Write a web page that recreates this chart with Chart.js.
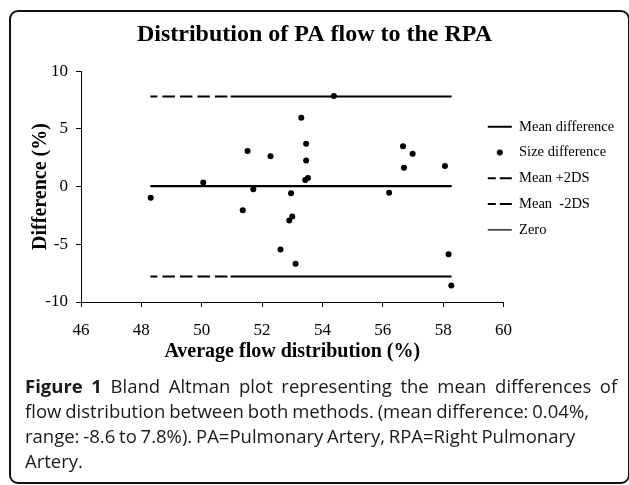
<!DOCTYPE html>
<html>
<head>
<meta charset="utf-8">
<script src="https://cdn.jsdelivr.net/npm/chart.js@4.4.1/dist/chart.umd.min.js"></script>
<style>
  html, body { margin: 0; padding: 0; background: #fff; width: 629px; height: 485px; overflow: hidden; }
  #frame { position: absolute; left: 9px; top: 10px; width: 617px; height: 470px; border: 2px solid #111; border-radius: 9px; }
  #chart { position: absolute; left: 0; top: 0; }
  #caption { position: absolute; left: 25px; top: 372.6px; width: 602px; font-family: 'Open Sans', sans-serif; font-size: 18.5px; line-height: 25.3px; color: #1a1a1a; white-space: nowrap; }
  #caption span { display: block; }
  #caption b { font-weight: 700; }
</style>
</head>
<body>
<div id="frame"></div>
<canvas id="chart" width="629" height="375"></canvas>
<div id="caption"><span style="word-spacing:3.8px"><b>Figure 1</b> Bland Altman plot representing the mean differences of</span><span style="word-spacing:-0.9px">flow distribution between both methods. (mean difference: 0.04%,</span><span style="word-spacing:-1px">range: -8.6 to 7.8%). PA=Pulmonary Artery, RPA=Right Pulmonary</span><span>Artery.</span></div>
<script>
// ---- data ----
const avgFlow = [48.31, 50.05, 51.36, 51.52, 51.71, 52.28, 52.61, 52.90, 52.96, 53.00, 53.11, 53.30,
                 53.43, 53.46, 53.46, 53.52, 54.38, 56.21, 56.67, 56.70, 56.99, 58.06, 58.18, 58.27];
const sizeDiff = [-0.97, 0.36, -2.06, 3.07, -0.24, 2.63, -5.46, -2.95, -0.59, -2.60, -6.69, 5.97,
                  0.56, 3.70, 2.26, 0.73, 7.84, -0.53, 3.50, 1.63, 2.84, 1.77, -5.86, -8.56];
const meanDiff = 0.04;
const upperLimit = 7.8;
const lowerLimit = -7.8;
const zeroValue = 0;
const lineStartX = 48.3;
const dashEndX = 50.96;
const lineEndX = 58.28;
const xTickLabels = [46, 48, 50, 52, 54, 56, 58, 60];
const yTickLabels = [-10, -5, 0, 5, 10];
const seriesNames = ['Mean difference', 'Size difference', 'Mean +2DS', 'Mean  -2DS', 'Zero'];

const SERIF = "'Liberation Serif', 'Times New Roman', serif";
const scatterData = avgFlow.map((x, i) => ({ x: x, y: sizeDiff[i] }));
const hLine = (y) => [{ x: lineStartX, y: y }, { x: lineEndX, y: y }];
const limitLine = (y) => [{ x: lineStartX, y: y }, { x: dashEndX, y: y }, { x: lineEndX, y: y }];
const DASH = [12.5, 5];
const tickFont = () => ({ family: SERIF, size: 17, weight: 'normal' });

// legend dot glyph
const dot = document.createElement('canvas');
dot.width = 8; dot.height = 8;
(function () { const c = dot.getContext('2d'); c.fillStyle = '#000'; c.beginPath(); c.arc(4, 4, 3, 0, Math.PI * 2); c.fill(); })();

const legendShift = {
  id: 'legendShift',
  afterLayout(chart) {
    const l = chart.legend; if (!l) return;
    const dx = -27, dy = -9.2;
    l.left += dx; l.width = l.right - l.left; l.top += dy; l.bottom += dy;
  }
};

Chart.defaults.font.family = SERIF;
Chart.defaults.font.size = 17;
Chart.defaults.color = '#000';

new Chart(document.getElementById('chart'), {
  type: 'scatter',
  data: {
    datasets: [
      { label: seriesNames[0], type: 'line', data: hLine(meanDiff), borderColor: '#000', borderWidth: 2, pointRadius: 0, fill: false },
      { label: seriesNames[1], data: scatterData, backgroundColor: '#000', borderColor: '#000', borderWidth: 0, pointRadius: 3, pointHoverRadius: 3 },
      { label: seriesNames[2], type: 'line', data: limitLine(upperLimit), borderColor: '#000', borderWidth: 2, pointRadius: 0, fill: false,
        borderDashOffset: 5.5, segment: { borderDash: (ctx) => ctx.p0DataIndex === 0 ? DASH : [] } },
      { label: seriesNames[3], type: 'line', data: limitLine(lowerLimit), borderColor: '#000', borderWidth: 2, pointRadius: 0, fill: false,
        borderDashOffset: 5.5, segment: { borderDash: (ctx) => ctx.p0DataIndex === 0 ? DASH : [] } },
      { label: seriesNames[4], type: 'line', data: hLine(zeroValue), borderColor: '#000', borderWidth: 1.2, pointRadius: 0, fill: false }
    ]
  },
  options: {
    responsive: false,
    animation: false,
    devicePixelRatio: 1,
    layout: { padding: { left: 0, right: 0, top: 0, bottom: 0 } },
    plugins: {
      tooltip: { enabled: false },
      title: {
        display: true,
        text: 'Distribution of PA flow to the RPA',
        font: { family: SERIF, size: 24, weight: 'bold' },
        color: '#000',
        padding: { top: 20, bottom: 22.3 }
      },
      legend: {
        position: 'right',
        align: 'center',
        maxWidth: 125.5,
        labels: {
          usePointStyle: true,
          pointStyleWidth: 24,
          padding: 11.3,
          font: { family: SERIF, size: 14.5 },
          color: '#000',
          generateLabels(chart) {
            const items = Chart.defaults.plugins.legend.labels.generateLabels(chart);
            items.forEach((it) => {
              const ds = chart.data.datasets[it.datasetIndex];
              it.strokeStyle = '#000';
              it.fillStyle = '#000';
              if (ds.type === 'line') {
                it.pointStyle = 'line';
                it.lineWidth = ds.borderWidth;
                it.lineDash = ds.segment ? [8, 4, 30, 4] : [];
                it.lineDashOffset = 0;
              } else {
                it.pointStyle = dot;
                it.lineWidth = 0;
              }
            });
            return items;
          }
        }
      }
    },
    scales: {
      x: {
        type: 'linear',
        min: 46, max: 60,
        afterBuildTicks: (s) => { s.ticks = xTickLabels.map((v) => ({ value: v })); },
        afterFit: (s) => { s.height = 375 - 302; },
        grid: { display: true, drawOnChartArea: false, drawTicks: true, tickLength: 5, color: '#000', lineWidth: 1 },
        border: { display: true, color: '#000', width: 1 },
        ticks: { font: tickFont, color: '#000', padding: 13, maxRotation: 0 },
        title: { display: true, text: 'Average flow distribution (%)', font: { family: SERIF, size: 20, weight: 'bold' }, color: '#000', padding: { top: 0, bottom: 11.5 } }
      },
      y: {
        type: 'linear',
        min: -10, max: 10,
        afterBuildTicks: (s) => { s.ticks = yTickLabels.map((v) => ({ value: v })); },
        afterFit: (s) => { s.width = 81; },
        grid: { display: true, drawOnChartArea: false, drawTicks: true, tickLength: 5, color: '#000', lineWidth: 1 },
        border: { display: true, color: '#000', width: 1 },
        ticks: { font: tickFont, color: '#000', padding: 8 },
        title: { display: true, text: 'Difference (%)', font: { family: SERIF, size: 20, weight: 'bold' }, color: '#000', padding: { top: 29, bottom: 0 } }
      }
    }
  },
  plugins: [legendShift]
});
</script>
</body>
</html>
